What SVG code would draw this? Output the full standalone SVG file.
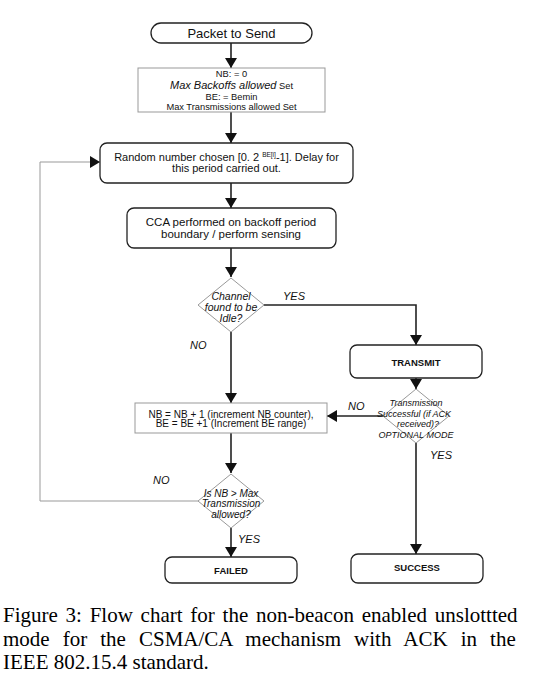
<svg xmlns="http://www.w3.org/2000/svg" width="539" height="686" viewBox="0 0 539 686">
<defs>
<marker id="ah" markerWidth="10" markerHeight="12" refX="10" refY="6" orient="auto" markerUnits="userSpaceOnUse">
<path d="M0,0 L10,6 L0,12 Z" fill="#111"/>
</marker>
<style>
.t{font-family:"Liberation Sans",Arial,sans-serif;fill:#111;text-anchor:middle}
.i{font-style:italic}
.b{font-weight:bold}
.term{fill:#fff;stroke:#222;stroke-width:1.3}
.proc{fill:#fff;stroke:#999;stroke-width:1}
.dia{fill:#fff;stroke:#999;stroke-width:1}
.c{fill:none;stroke:#222;stroke-width:1.6;marker-end:url(#ah)}
.fb{fill:none;stroke:#999;stroke-width:1;marker-end:url(#ah)}
.lbl{font-family:"Liberation Sans",Arial,sans-serif;font-style:italic;font-size:11px;fill:#111}
.cap{font-family:"Liberation Serif","Times New Roman",serif;font-size:21px;fill:#000}
</style>
</defs>
<rect width="539" height="686" fill="#fff"/>

<g id="connectors">
<path class="c" d="M231,43 V68"/>
<path class="c" d="M231,112 V143"/>
<path class="c" d="M231,183 V208"/>
<path class="c" d="M231,248 V277"/>
<path class="c" d="M264,305 H416 V345"/>
<path class="c" d="M231,332 V403"/>
<path class="c" d="M416,378 V389"/>
<path class="c" d="M383,416 H327"/>
<path class="c" d="M416,443 V554"/>
<path class="c" d="M231,433 V473"/>
<path class="c" d="M231,528 V557"/>
<path class="fb" d="M198,501 H40 V162 H100"/>
<text class="lbl" x="283" y="300">YES</text>
<text class="lbl" x="190" y="349">NO</text>
<text class="lbl" x="348" y="410">NO</text>
<text class="lbl" x="430" y="459">YES</text>
<text class="lbl" x="153" y="484">NO</text>
<text class="lbl" x="238" y="543">YES</text>
</g>

<g id="packet">
<rect class="term" x="151" y="23" width="161" height="20" rx="10"/>
<text class="t" x="231.5" y="37.5" font-size="13">Packet to Send</text>
</g>

<g id="init">
<rect class="proc" x="138" y="68" width="187" height="44"/>
<text class="t" x="231.5" y="77" font-size="9.3">NB: = 0</text>
<text class="t" x="231.5" y="89" font-size="9.3"><tspan class="i" font-size="11">Max Backoffs allowed</tspan> Set</text>
<text class="t" x="231.5" y="99.5" font-size="9.3">BE: = Bemin</text>
<text class="t" x="231.5" y="110" font-size="9.3">Max Transmissions allowed Set</text>
</g>

<g id="random">
<rect class="term" x="100" y="143" width="253" height="40" rx="7"/>
<text class="t" x="226.5" y="160.5" font-size="11">Random number chosen [0. 2 <tspan font-size="6.5" dy="-4">BE[i]</tspan><tspan dy="4">-1]. Delay for</tspan></text>
<text class="t" x="226.5" y="171.5" font-size="11">this period carried out.</text>
</g>

<g id="cca">
<rect class="term" x="127" y="208" width="209" height="40" rx="7"/>
<text class="t" x="231" y="226" font-size="11.5">CCA performed on backoff period</text>
<text class="t" x="231" y="237.5" font-size="11.5">boundary / perform sensing</text>
</g>

<g id="idle">
<polygon class="dia" points="231,278 264,305 231,332 198,305"/>
<text class="t i" x="231" y="299.5" font-size="10.5">Channel</text>
<text class="t i" x="231" y="310.5" font-size="10.5">found to be</text>
<text class="t i" x="231" y="322" font-size="10.5">Idle?</text>
</g>

<g id="transmit">
<rect class="term" x="350" y="345" width="132" height="33" rx="7"/>
<text class="t b" x="416" y="365.5" font-size="9.5">TRANSMIT</text>
</g>

<g id="success-check">
<polygon class="dia" points="416,389 449,416 416,443 383,416"/>
<text class="t i" x="416" y="406" font-size="9">Transmission</text>
<text class="t i" x="414" y="416.5" font-size="9">Successful (if ACK</text>
<text class="t i" x="418" y="427" font-size="9">received)?</text>
<text class="t i" x="416" y="437.5" font-size="9">OPTIONAL MODE</text>
</g>

<g id="increment">
<rect class="proc" x="135" y="403" width="192" height="30"/>
<text class="t" x="231" y="417.5" font-size="10">NB = NB + 1 (increment NB counter),</text>
<text class="t" x="231" y="427" font-size="10">BE = BE +1 (Increment BE range)</text>
</g>

<g id="max-check">
<polygon class="dia" points="231,474 264,501 231,528 198,501"/>
<text class="t i" x="231" y="496.5" font-size="10">Is NB &gt; Max</text>
<text class="t i" x="231" y="507" font-size="10">Transmission</text>
<text class="t i" x="231" y="517.5" font-size="10">allowed?</text>
</g>

<g id="failed">
<rect class="term" x="165" y="557" width="132" height="26" rx="7"/>
<text class="t b" x="231" y="573.5" font-size="9.5">FAILED</text>
</g>

<g id="success">
<rect class="term" x="351" y="554" width="132" height="29" rx="7"/>
<text class="t b" x="417" y="571" font-size="9.5">SUCCESS</text>
</g>

<g id="caption">
<text class="cap" x="3" y="621.5" word-spacing="2.5">Figure 3: Flow chart for the non-beacon enabled unslottted</text>
<text class="cap" x="3" y="645.5" word-spacing="7.8">mode for the CSMA/CA mechanism with ACK in the</text>
<text class="cap" x="3" y="669">IEEE 802.15.4 standard.</text>
</g>
</svg>
